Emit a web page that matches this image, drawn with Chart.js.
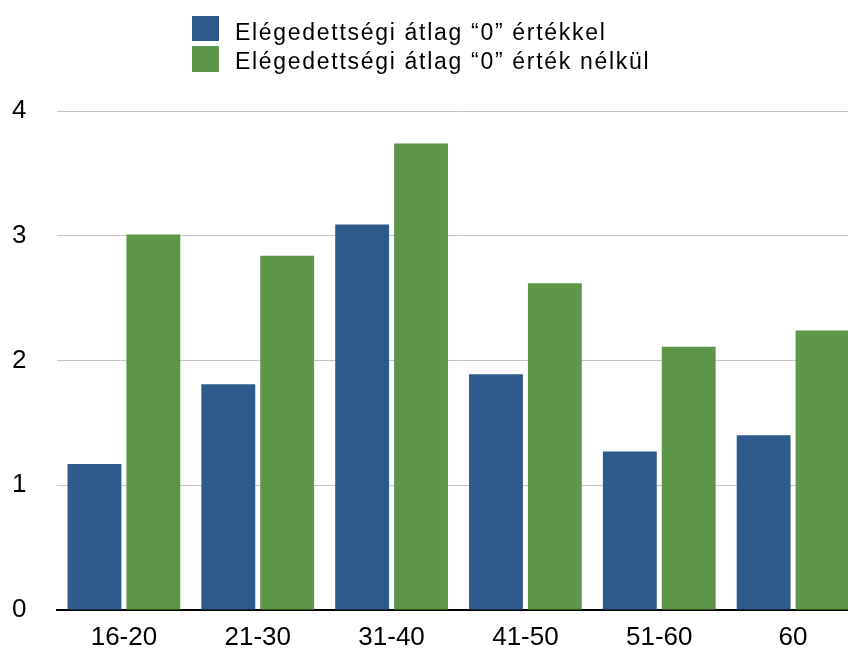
<!DOCTYPE html>
<html>
<head>
<meta charset="utf-8">
<script src="https://cdn.jsdelivr.net/npm/chart.js@4.4.1/dist/chart.umd.min.js"></script>
<style>
  html, body { margin: 0; padding: 0; background: #fff; overflow: hidden; }
  #wrap { position: absolute; left: 0; top: 0; width: 860px; height: 650px; }
</style>
</head>
<body>
<div id="wrap"><canvas id="chart"></canvas></div>
<script>
// Age groups and average satisfaction scores
const ageGroups = ['16-20', '21-30', '31-40', '41-50', '51-60', '60'];
const withZero = [1.17, 1.81, 3.09, 1.89, 1.27, 1.40];
const withoutZero = [3.01, 2.84, 3.74, 2.62, 2.11, 2.24];
const seriesNames = ['Elégedettségi átlag “0” értékkel', 'Elégedettségi átlag “0” érték nélkül'];
const yTicks = [0, 1, 2, 3, 4];

const FONT = '"Liberation Sans", Arial, Helvetica, sans-serif';

// Stacked two-row legend drawn above the plot
const stackedLegend = {
  id: 'stackedLegend',
  afterDraw(chart) {
    const ctx = chart.ctx;
    ctx.save();
    ctx.font = '23px ' + FONT;
    if ('letterSpacing' in ctx) ctx.letterSpacing = '1.7px';
    ctx.textBaseline = 'alphabetic';
    ctx.textAlign = 'left';
    const rows = [{ boxY: 16, boxH: 25, textY: 40 }, { boxY: 46, boxH: 26, textY: 69 }];
    chart.data.datasets.forEach((ds, i) => {
      const r = rows[i];
      ctx.fillStyle = ds.backgroundColor;
      ctx.fillRect(192, r.boxY, 27, r.boxH);
      ctx.fillStyle = '#000';
      ctx.fillText(ds.label, 235, r.textY);
    });
    ctx.restore();
  }
};

new Chart(document.getElementById('chart'), {
  type: 'bar',
  data: {
    labels: ageGroups,
    datasets: [
      { label: seriesNames[0], data: withZero, backgroundColor: '#2e5a8b' },
      { label: seriesNames[1], data: withoutZero, backgroundColor: '#5e9649' }
    ]
  },
  options: {
    responsive: true,
    maintainAspectRatio: false,
    animation: false,
    devicePixelRatio: 1,
    layout: { padding: { top: 111, left: 12, right: 0, bottom: 0 } },
    datasets: { bar: { categoryPercentage: 0.88, barPercentage: 0.915 } },
    plugins: { legend: { display: false }, tooltip: { enabled: false } },
    scales: {
      x: {
        grid: { display: false, drawTicks: false },
        border: { display: true, color: '#000', width: 2 },
        ticks: { color: '#000', font: { family: FONT, size: 26 }, padding: 12 },
        afterFit(scale) { scale.height = 40; }
      },
      y: {
        min: 0,
        max: 4,
        afterBuildTicks(scale) { scale.ticks = yTicks.map(v => ({ value: v })); },
        grid: { color: '#c4c4c4', lineWidth: 1, drawTicks: false },
        border: { display: false },
        ticks: { color: '#000', font: { family: FONT, size: 26 }, padding: 0, crossAlign: 'far' },
        afterFit(scale) { scale.width = 45; }
      }
    }
  },
  plugins: [stackedLegend]
});
</script>
</body>
</html>
